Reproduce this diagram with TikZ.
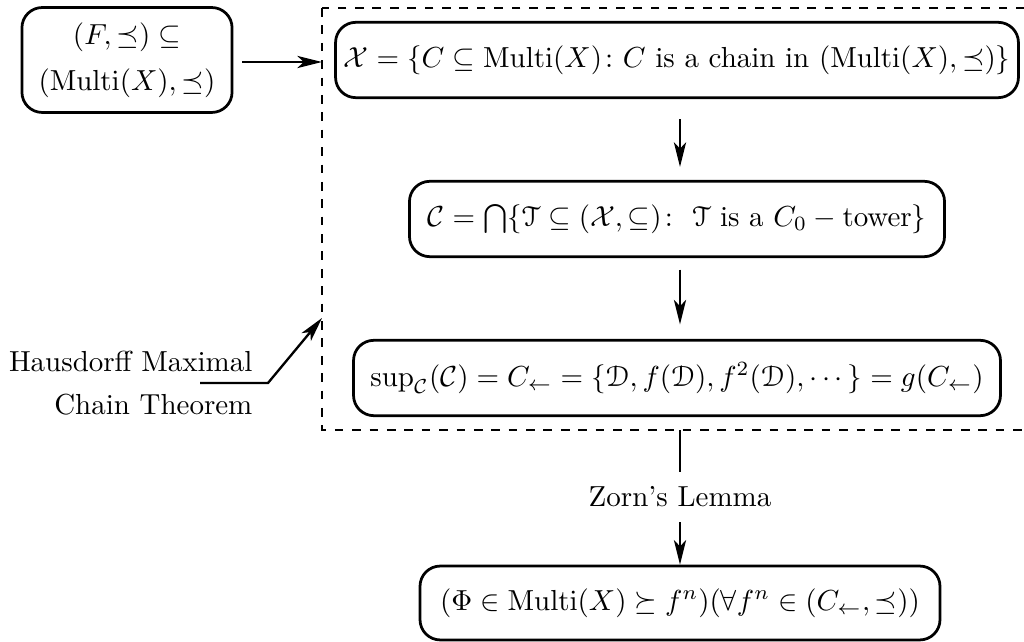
\documentclass[tikz,border=0pt]{standalone}
\usepackage{amsmath,amssymb}
\usepackage[mathscr]{eucal}
\usetikzlibrary{arrows.meta}
\begin{document}
\begin{tikzpicture}[x=0.345pt,y=-0.345pt,
  box/.style={draw,line width=0.95pt,rounded corners=7pt,inner sep=0pt,
              minimum height=26pt,align=center},
  conn/.style={line width=0.8pt,-{Stealth[length=8.5pt,width=4.2pt,inset=2.2pt]}},
  plain/.style={line width=0.8pt},
  frame/.style={dashed,line width=0.7pt}]
\useasboundingbox (0,0) rectangle (1024,642);

% dashed frame around the chain construction
\draw[frame] (322,8) rectangle (1060,430);

% nodes
\node[box,minimum width=72.5pt,minimum height=36.2pt] (F) at (127,60)
  {$(F,\preceq)\subseteq$\\[4pt]$(\mathrm{Multi}(X),\preceq)$};
\node[box,minimum width=235.6pt] (X) at (677,60)
  {$\mathcal{X}=\{C\subseteq \mathrm{Multi}(X)\colon C \text{ is a chain in } (\mathrm{Multi}(X),\preceq)\}$};
\node[box,minimum width=184.6pt] (C) at (677,219)
  {$\mathcal{C}=\bigcap\{\mathscr{T}\subseteq(\mathcal{X},\subseteq)\colon\ \mathscr{T}\text{ is a }C_0-\text{tower}\}$};
\node[box,minimum width=223.2pt] (S) at (677,378)
  {$\sup_{\mathcal{C}}(\mathcal{C})=C_\leftarrow=\{\mathscr{D},f(\mathscr{D}),f^2(\mathscr{D}),\cdots\}=g(C_\leftarrow)$};
\node[box,minimum width=179.4pt,minimum height=25.5pt] (P) at (680,603)
  {$(\Phi\in\mathrm{Multi}(X)\succeq f^n)(\forall f^n\in(C_\leftarrow,\preceq))$};

\node[inner sep=5pt] (zorn) at (680,497) {Zorn's Lemma};
\node[anchor=east,align=right,inner sep=0pt] (haus) at (253,383)
  {Hausdorff Maximal\\[3pt]Chain Theorem};

% connector end points on the frame
\coordinate (fin) at (322,62);
\coordinate (zt) at (680,430);
\coordinate (h1) at (200,383);
\coordinate (h2) at (268,383);
\coordinate (h3) at (322,318);

% connectors
\draw[conn,shorten <=3pt] (F.east |- fin) -- (fin);
\draw[conn,shorten <=7pt,shorten >=4.5pt] (X.south -| zt) -- (C.north -| zt);
\draw[conn,shorten <=4pt,shorten >=5pt] (C.south -| zt) -- (S.north -| zt);
\draw[plain] (zt) -- (zorn.north);
\draw[conn] (zorn.south) -- (P.north);
\draw[conn] (h1) -- (h2) -- (h3);
\end{tikzpicture}
\end{document}
